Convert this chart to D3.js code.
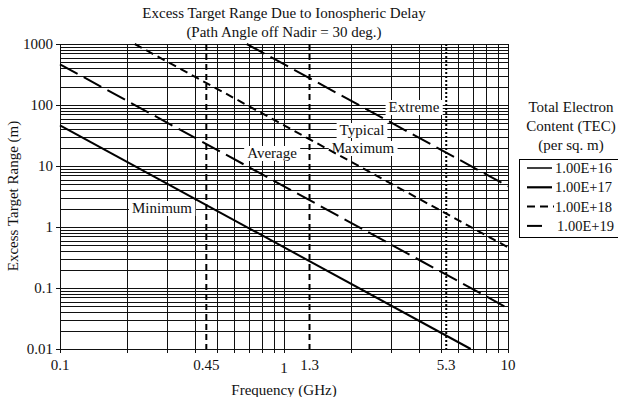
<!DOCTYPE html>
<html>
<head>
<meta charset="utf-8">
<script src="https://cdn.jsdelivr.net/npm/d3@7"></script>
<style>
  html, body { margin: 0; padding: 0; background: #fff; }
  svg { display: block; }
  text { font-family: "Liberation Serif", "Times New Roman", serif; fill: #111; }
</style>
</head>
<body>
<svg id="chart" width="618" height="397"></svg>
<script>
// Excess range (m) vs frequency (GHz), one straight log-log line per TEC level
const tecLevels = ["1.00E+16", "1.00E+17", "1.00E+18", "1.00E+19"];
const curveLabels = ["Minimum", "Average", "Typical Maximum", "Extreme"];

const minimumFreq = [0.1, 6.82];
const minimumRange = [46.5, 0.01];
const averageFreq = [0.1, 10];
const averageRange = [465, 0.0465];
const typicalMaxFreq = [0.2156, 10];
const typicalMaxRange = [1000, 0.465];
const extremeFreq = [0.682, 10];
const extremeRange = [1000, 4.65];

// Radar band reference frequencies (GHz)
const bandFreqs = [0.45, 1.3];
const cBandFreq = [5.3];

const xTickValues = [0.1, 0.45, 1, 1.3, 5.3, 10];
const yTickValues = [0.01, 0.1, 1, 10, 100, 1000];

const svg = d3.select("#chart");
const m = { left: 60, right: 508, top: 44, bottom: 349 };
const FS = 15;

const x = d3.scaleLog().domain([0.1, 10]).range([m.left, m.right]);
const y = d3.scaleLog().domain([0.01, 1000]).range([m.bottom, m.top]);

const px = v => Math.round(v) + 0.5;

// Grid: every 1..9 step of each decade
const gx = [];
for (let d = 0.1; d < 10; d *= 10) for (let k = 1; k <= 9; k++) gx.push(+(d * k).toPrecision(3));
gx.push(10);
const gy = [];
for (let d = 0.01; d < 1000; d *= 10) for (let k = 1; k <= 9; k++) gy.push(+(d * k).toPrecision(3));
gy.push(1000);

const grid = svg.append("g").attr("stroke", "#111").attr("stroke-width", 1)
  .attr("shape-rendering", "crispEdges");
grid.selectAll("line.v").data(gx).join("line").attr("class", "v")
  .attr("x1", d => px(x(d))).attr("x2", d => px(x(d)))
  .attr("y1", m.top).attr("y2", m.bottom + 4);
grid.selectAll("line.h").data(gy).join("line").attr("class", "h")
  .attr("y1", d => px(y(d))).attr("y2", d => px(y(d)))
  .attr("x1", m.left).attr("x2", m.right);
// Major ticks on the left
grid.selectAll("line.t").data(yTickValues).join("line").attr("class", "t")
  .attr("y1", d => px(y(d))).attr("y2", d => px(y(d)))
  .attr("x1", m.left - 4).attr("x2", m.left);

// Curve labels sit on white boxes over the grid
const labelSpecs = [
  { text: "Minimum", cx: 162, base: 213 },
  { text: "Average", cx: 272, base: 158 },
  { text: "Typical", cx: 362, base: 135 },
  { text: "Maximum", cx: 363, base: 153 },
  { text: "Extreme", cx: 414, base: 112 }
];
const labels = svg.append("g");
labelSpecs.forEach(s => {
  const t = labels.append("text").attr("x", s.cx).attr("y", s.base)
    .attr("text-anchor", "middle").attr("font-size", FS).text(s.text);
  const b = t.node().getBBox();
  labels.insert("rect", "text").attr("x", b.x - 3).attr("y", b.y + 1)
    .attr("width", b.width + 6).attr("height", b.height - 1).attr("fill", "#fff");
});

// Vertical frequency markers
svg.append("g").selectAll("line").data(bandFreqs).join("line")
  .attr("x1", d => x(d)).attr("x2", d => x(d))
  .attr("y1", m.top).attr("y2", m.bottom)
  .attr("stroke", "#000").attr("stroke-width", 2).attr("stroke-dasharray", "6,4");
svg.append("g").selectAll("line").data(cBandFreq).join("line")
  .attr("x1", d => x(d)).attr("x2", d => x(d))
  .attr("y1", m.top).attr("y2", m.bottom)
  .attr("stroke", "#000").attr("stroke-width", 2).attr("stroke-dasharray", "2,2");

// TEC curves
const series = [
  { f: minimumFreq, r: minimumRange, dash: null },
  { f: averageFreq, r: averageRange, dash: "20,7" },
  { f: typicalMaxFreq, r: typicalMaxRange, dash: "8,5" },
  { f: extremeFreq, r: extremeRange, dash: "20,7" }
];
const line = d3.line().x(d => x(d[0])).y(d => y(d[1]));
svg.append("g").selectAll("path").data(series).join("path")
  .attr("d", s => line(d3.zip(s.f, s.r)))
  .attr("fill", "none").attr("stroke", "#000").attr("stroke-width", 2)
  .attr("stroke-dasharray", s => s.dash);

// Axis tick labels
const xl = svg.append("g").attr("text-anchor", "middle");
xTickValues.forEach(v => {
  xl.append("text").attr("x", x(v)).attr("y", v === 1 ? 373 : 370)
    .attr("font-size", FS).text(v);
});
const yl = svg.append("g");
yTickValues.forEach(v => {
  yl.append("text").attr("x", 53).attr("y", y(v) + 5).attr("text-anchor", "end")
    .attr("font-size", FS).text(v);
});

// Titles
svg.append("text").attr("x", 284).attr("y", 18).attr("text-anchor", "middle")
  .attr("font-size", FS).text("Excess Target Range Due to Ionospheric Delay");
svg.append("text").attr("x", 284).attr("y", 37).attr("text-anchor", "middle")
  .attr("font-size", FS).text("(Path Angle off Nadir = 30 deg.)");
svg.append("text").attr("x", 284).attr("y", 395).attr("text-anchor", "middle")
  .attr("font-size", FS).text("Frequency (GHz)");
svg.append("text").attr("transform", "translate(18,196) rotate(-90)")
  .attr("text-anchor", "middle").attr("font-size", FS).text("Excess Target Range (m)");

// Legend
const legTitle = ["Total Electron", "Content (TEC)", "(per sq. m)"];
legTitle.forEach((t, i) => {
  svg.append("text").attr("x", 571).attr("y", [112, 131, 150][i])
    .attr("text-anchor", "middle").attr("font-size", FS).text(t);
});
svg.append("rect").attr("x", 519.5).attr("y", 159.5).attr("width", 110).attr("height", 78)
  .attr("fill", "#fff").attr("stroke", "#000").attr("stroke-width", 1);
const legendStyles = [
  { w: 1.5, dash: null, x2: 552 },
  { w: 2.2, dash: null, x2: 552 },
  { w: 2, dash: "8,5", x2: 554 },
  { w: 2, dash: null, x2: 542 }
];
tecLevels.forEach((t, i) => {
  const cy = 168 + i * 19.3;
  const st = legendStyles[i];
  svg.append("line").attr("x1", 527).attr("x2", st.x2).attr("y1", cy).attr("y2", cy)
    .attr("stroke", "#000").attr("stroke-width", st.w).attr("stroke-dasharray", st.dash);
  svg.append("text").attr("x", i === 3 ? 557 : 555).attr("y", cy + 5)
    .attr("font-size", 14.5).text(t);
});
</script>
</body>
</html>
